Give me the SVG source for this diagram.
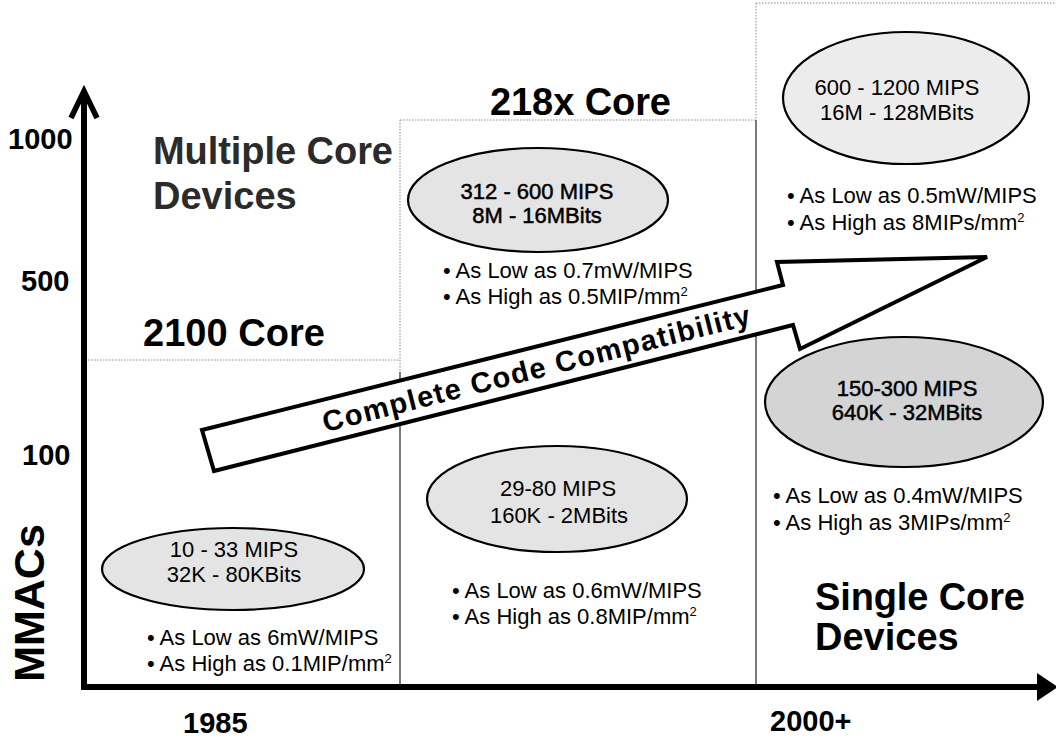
<svg xmlns="http://www.w3.org/2000/svg" width="1056" height="741" viewBox="0 0 1056 741">
<style>
text{font-family:"Liberation Sans",Arial,sans-serif;fill:#000}
.ax{font-weight:bold;font-size:29px}
.hd{font-weight:bold;font-size:38px}
.el{font-size:22px;text-anchor:middle}
.sb{stroke:#000;stroke-width:0.5}
.bl{font-size:22px}
.dot{stroke:#8a8a8a;stroke-width:1;stroke-dasharray:1.5 1.5;fill:none}
.sol{stroke:#222;stroke-width:1.2;fill:none}
.ell{fill:#e4e4e4;stroke:#000;stroke-width:2.2}
</style>
<rect width="1056" height="741" fill="#fff"/>
<g id="grid">
<line class="dot" x1="88" y1="360" x2="400" y2="360"/>
<line class="dot" x1="400" y1="120" x2="756" y2="120"/>
<line class="dot" x1="756" y1="3" x2="1056" y2="3"/>
<line class="dot" x1="400" y1="120" x2="400" y2="372"/>
<line class="sol" x1="400" y1="372" x2="400" y2="686"/>
<line class="dot" x1="756" y1="3" x2="756" y2="120"/>
<line class="sol" x1="756" y1="120" x2="756" y2="686"/>
</g>
<g id="axes">
<line x1="84" y1="688" x2="84" y2="93" stroke="#000" stroke-width="6"/>
<polyline points="71,118 84,91 97,118" fill="none" stroke="#000" stroke-width="5.5" stroke-linejoin="miter"/>
<line x1="81" y1="687" x2="1040" y2="687" stroke="#000" stroke-width="6"/>
<polygon points="1037,673 1058,687 1037,701" fill="#000"/>
<text class="ax" x="8" y="149">1000</text>
<text class="ax" x="21" y="291">500</text>
<text class="ax" x="22" y="465">100</text>
<text class="ax" x="183" y="733">1985</text>
<text class="ax" x="770" y="731">2000+</text>
<text transform="translate(44,603) rotate(-90)" font-weight="bold" font-size="43" text-anchor="middle">MMACs</text>
</g>
<g id="headings">
<text class="hd" x="153" y="164" style="fill:#2b2b2b" textLength="240">Multiple Core</text>
<text class="hd" x="153" y="209" style="fill:#2b2b2b">Devices</text>
<text class="hd" x="143" y="346" textLength="182">2100 Core</text>
<text class="hd" x="490" y="115" textLength="181">218x Core</text>
<text class="hd" x="815" y="610" textLength="210">Single Core</text>
<text class="hd" x="815" y="650">Devices</text>
</g>
<g id="node-2100">
<ellipse class="ell" cx="233" cy="569" rx="131" ry="41"/>
<text class="el" x="234" y="557">10 - 33 MIPS</text>
<text class="el" x="234" y="582">32K - 80KBits</text>
<text class="bl" x="147" y="645">• As Low as 6mW/MIPS</text>
<text class="bl" x="147" y="671">• As High as 0.1MIP/mm<tspan font-size="13" dy="-8">2</tspan></text>
</g>
<g id="node-218x-low">
<ellipse class="ell" cx="557" cy="499" rx="130" ry="53"/>
<text class="el" x="558" y="496">29-80 MIPS</text>
<text class="el" x="559" y="523">160K - 2MBits</text>
<text class="bl" x="452" y="598">• As Low as 0.6mW/MIPS</text>
<text class="bl" x="452" y="624">• As High as 0.8MIP/mm<tspan font-size="13" dy="-8">2</tspan></text>
</g>
<g id="node-218x-high">
<ellipse class="ell" cx="538" cy="200" rx="130" ry="52"/>
<text class="el sb" x="537" y="199">312 - 600 MIPS</text>
<text class="el sb" x="537" y="223">8M - 16MBits</text>
<text class="bl" x="443" y="278">• As Low as 0.7mW/MIPS</text>
<text class="bl" x="443" y="304">• As High as 0.5MIP/mm<tspan font-size="13" dy="-8">2</tspan></text>
</g>
<g id="node-multi">
<ellipse class="ell" cx="906" cy="98" rx="123" ry="66" style="fill:#ececec"/>
<text class="el" x="897" y="95">600 - 1200 MIPS</text>
<text class="el" x="897" y="120">16M - 128MBits</text>
<text class="bl" x="787" y="203">• As Low as 0.5mW/MIPS</text>
<text class="bl" x="787" y="230">• As High as 8MIPs/mm<tspan font-size="13" dy="-8">2</tspan></text>
</g>
<g id="node-single">
<ellipse class="ell" cx="904" cy="402" rx="139" ry="65" style="fill:#d4d4d4"/>
<text class="el sb" x="907" y="396">150-300 MIPS</text>
<text class="el sb" x="907" y="420">640K - 32MBits</text>
<text class="bl" x="773" y="503">• As Low as 0.4mW/MIPS</text>
<text class="bl" x="773" y="530">• As High as 3MIPs/mm<tspan font-size="13" dy="-8">2</tspan></text>
</g>
<g id="connectors">
<polygon points="202,430 783,285 777,262 987,257 800,349 793,325 214,471" fill="#fff" stroke="#000" stroke-width="4" stroke-linejoin="miter"/>
<text transform="translate(536,368) rotate(-14.2)" x="0" y="10.5" font-weight="bold" font-size="29" text-anchor="middle" textLength="440">Complete Code Compatibility</text>
</g>
</svg>
